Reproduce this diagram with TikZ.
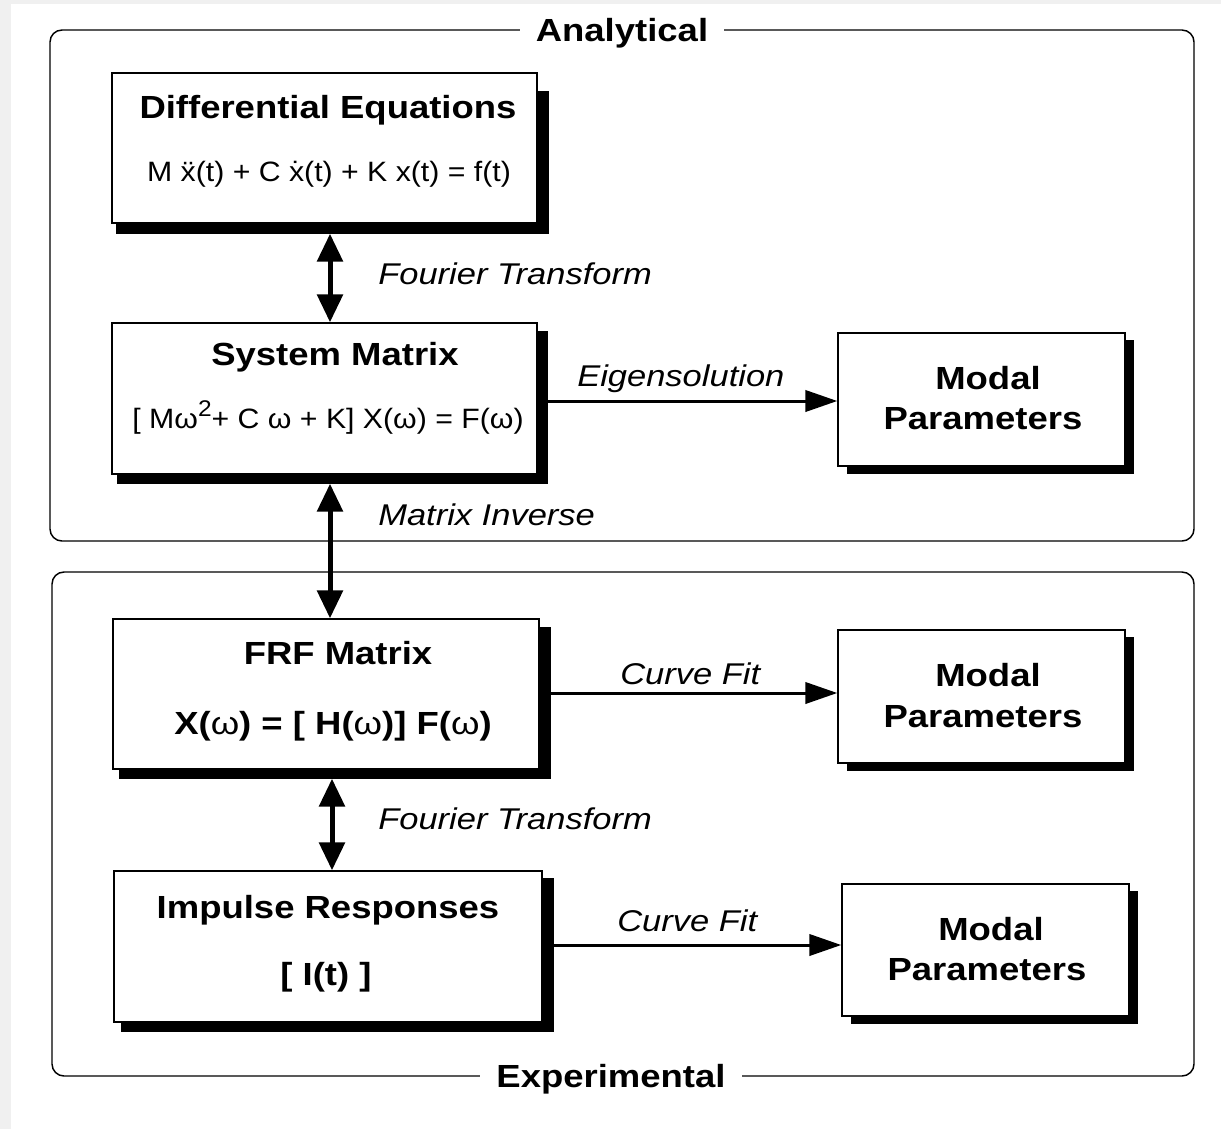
\documentclass[tikz,border=0pt]{standalone}
\usepackage{fontspec}
\setmainfont{Liberation Sans}
\newfontfamily\headfont[FakeStretch=1.14]{Liberation Sans}
\newfontfamily\eqfont[FakeStretch=1.08]{Liberation Sans}
\newfontfamily\labfont[FakeStretch=1.15]{Liberation Sans}
\usetikzlibrary{arrows.meta,calc}
\pgfdeclarelayer{pagelayer}
\pgfdeclarelayer{shadowlayer}
\pgfsetlayers{pagelayer,shadowlayer,main}

% x with two dots / one dot above (time derivatives)
\newcommand\ddotx{\ooalign{x\cr\hidewidth\char"00A8\hidewidth\cr}}
\newcommand\dotx{\ooalign{x\cr\hidewidth\char"02D9\hidewidth\cr}}
\newcommand\om{{\mdseries ω}}

% block given by left, top, right, bottom (pixel grid, y downwards)
\newcommand\blockat[5]{%
  \node[blockbox, minimum width={(#4-#2)*0.75pt}, minimum height={(#5-#3)*0.75pt}]
    (#1) at ({(#2+#4)/2},{(#3+#5)/2}) {};}
% solid drop shadow: node, dx, dy, start of bottom strip, start of right strip
\newcommand\dropshadow[5]{%
  \begin{pgfonlayer}{shadowlayer}
    \fill ($(#1.south west)+(#4,0)$) rectangle ($(#1.south east)+(#2,#3)$);
    \fill ($(#1.north east)+(0,#5)$) rectangle ($(#1.south east)+(#2,#3)$);
  \end{pgfonlayer}}

\tikzset{
  x=0.75pt, y=-0.75pt,
  blockbox/.style={draw=black, line width=1.1pt, fill=white, inner sep=0pt},
  head/.style={font=\headfont\bfseries\fontsize{24}{28}\selectfont, inner sep=0pt, anchor=base},
  eqn/.style={font=\eqfont\fontsize{21}{25}\selectfont, inner sep=0pt, anchor=base},
  lab/.style={font=\labfont\itshape\fontsize{22.5}{26}\selectfont, inner sep=0pt, anchor=base west},
  frametitle/.style={head, fill=white, inner xsep=12pt, inner ysep=2pt},
  frame/.style={draw=black, line width=1.1pt, rounded corners=9pt},
  twoway/.style={line width=3.75pt, {Triangle[length=21pt,width=19pt]}-{Triangle[length=21pt,width=19pt]}},
  oneway/.style={line width=2.25pt, -{Triangle[length=24pt,width=16pt]}},
}

\begin{document}
\begin{tikzpicture}
\useasboundingbox (0,0) rectangle (1221,1129);
\begin{pgfonlayer}{pagelayer}
  \fill[white] (0,0) rectangle (1221,1129);
  \fill[black!6] (0,0) rectangle (11,1129);
  \fill[black!6] (0,0) rectangle (1221,4);
\end{pgfonlayer}

% group frames
\draw[frame] (50,30) rectangle (1194,541);
\draw[frame] (52,572) rectangle (1194,1076);
\node[frametitle] (analytical) at (622,41) {Analytical};
\node[frametitle] (experimental) at (611,1087) {Experimental};

% blocks
\blockat{de}{112}{73}{537}{223}
\blockat{sys}{112}{323}{537}{474}
\blockat{m1}{838}{333}{1125}{466}
\blockat{frf}{113}{619}{539}{769}
\blockat{m2}{838}{630}{1125}{763}
\blockat{imp}{114}{871}{542}{1022}
\blockat{m3}{842}{884}{1129}{1016}

\dropshadow{de}{11}{10}{5}{19}
\dropshadow{sys}{10}{9}{6}{9}
\dropshadow{m1}{8}{7}{10}{8}
\dropshadow{frf}{11}{9}{7}{9}
\dropshadow{m2}{8}{7}{10}{8}
\dropshadow{imp}{11}{9}{8}{8}
\dropshadow{m3}{8}{7}{10}{8}

% block texts
\node[head] (deT) at (328,118) {Differential Equations};
\node[eqn]  (deE) at (329,181) {M \ddotx(t) + C \dotx(t) + K x(t) = f(t)};
\node[head] (sysT) at (335,365) {System Matrix};
\node[eqn]  (sysE) at (328,428) {[ Mω\raisebox{0.42em}{\fontsize{17}{17}\selectfont 2}+ C ω + K] X(ω) = F(ω)};
\node[head] (m1a) at (988,389) {Modal};
\node[head] (m1b) at (983,429) {Parameters};
\node[head] (frfT) at (338,664) {FRF Matrix};
\node[head] (frfE) at (333,734) {X(\om) = [ H(\om)] F(\om)};
\node[head] (m2a) at (988,686) {Modal};
\node[head] (m2b) at (983,727) {Parameters};
\node[head] (impT) at (328,918) {Impulse Responses};
\node[head] (impE) at (326,985) {[ I(t) ]};
\node[head] (m3a) at (991,940) {Modal};
\node[head] (m3b) at (987,980) {Parameters};

% connectors
\coordinate (ax1) at (330,0);
\coordinate (ax3) at (332,0);
\coordinate (h1) at (0,401);
\coordinate (h2) at (0,693);
\coordinate (h3) at (0,945);
\draw[twoway] ($(ax1 |- de.south)+(0,10)$) -- (ax1 |- sys.north);
\draw[twoway] ($(ax1 |- sys.south)+(0,9)$) -- (ax1 |- frf.north);
\draw[twoway] ($(ax3 |- frf.south)+(0,9)$) -- (ax3 |- imp.north);
\draw[oneway] (sys.east |- h1) -- (m1.west |- h1);
\draw[oneway] (frf.east |- h2) -- (m2.west |- h2);
\draw[oneway] (imp.east |- h3) -- (m3.west |- h3);

% connector labels
\node[lab] (ft1)  at (378,284) {Fourier Transform};
\node[lab] (eig)  at (577,386) {Eigensolution};
\node[lab] (minv) at (378,525) {Matrix Inverse};
\node[lab] (cf1)  at (620,684) {Curve Fit};
\node[lab] (ft2)  at (378,829) {Fourier Transform};
\node[lab] (cf2)  at (617,931) {Curve Fit};
\end{tikzpicture}
\end{document}
